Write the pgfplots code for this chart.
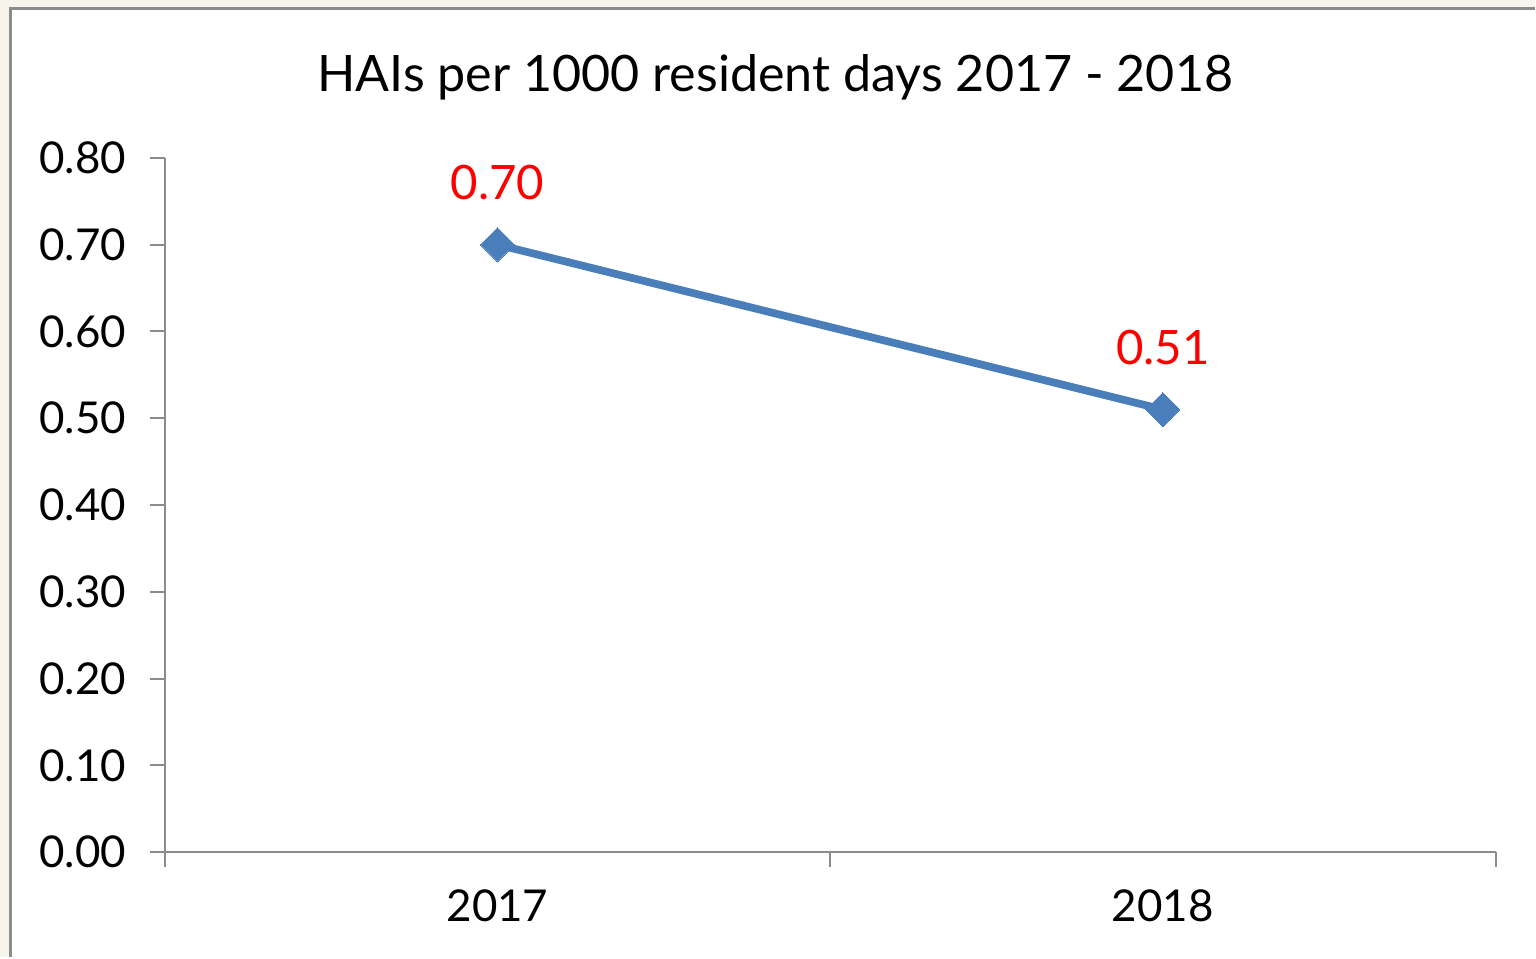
\documentclass[border=0pt]{standalone}
\usepackage{pgfplots}
\pgfplotsset{compat=1.18}
\usepackage{fontspec}
\setmainfont{Lato}
\definecolor{lineblue}{HTML}{4A7EBB}
\definecolor{axgray}{HTML}{8C8C8C}
\definecolor{cream}{HTML}{F7F4EC}
\definecolor{labred}{HTML}{FF0000}
\begin{document}
\begin{tikzpicture}
\fill[cream] (0,0) rectangle (153.6mm,95.8mm);
\fill[white] (1.1mm,0) rectangle (153.6mm,94.9mm);
\draw[axgray, line width=0.3mm] (1.1mm,0) -- (1.1mm,94.9mm) -- (153.6mm,94.9mm);
\useasboundingbox (0,0) rectangle (153.6mm,95.8mm);
\node[anchor=base, inner sep=0pt, font=\fontsize{14.3}{17}\selectfont] at (77.6mm,86.6mm) {HAIs per 1000 resident days 2017 - 2018};
\begin{axis}[
  at={(16.5mm,10.5mm)}, anchor=south west,
  scale only axis, width=133.2mm, height=69.5mm,
  xmin=-0.5, xmax=1.5, ymin=0, ymax=0.8,
  axis lines=left, axis line style={-, axgray, line width=0.2mm},
  tick align=outside, major tick length=1.5mm,
  tick style={axgray, line width=0.2mm},
  xtick={-0.5,0.5,1.5}, xticklabels={},
  extra x ticks={0,1}, extra x tick labels={2017,2018},
  extra x tick style={major tick length=0pt, xticklabel style={anchor=base, inner sep=0pt, yshift=-6.9mm}},
  ytick={0,0.1,...,0.8},
  yticklabel style={anchor=east, inner sep=0pt, xshift=-2.3mm, /pgf/number format/.cd, fixed, fixed zerofill, precision=2},
  /pgf/number format/assume math mode=true,
  ticklabel style={font=\fontsize{12.5}{15}\selectfont},
  clip=false,
  nodes near coords,
  point meta=explicit symbolic,
  every node near coord/.append style={anchor=base, inner sep=0pt, yshift=4.5mm, text=labred, font=\fontsize{13.5}{16}\selectfont},
]
\addplot[lineblue, line width=2.2pt, mark=square*, mark size=1.2mm, mark options={rotate=45, fill=lineblue, draw=lineblue, line width=0pt}]
  coordinates {(0,0.70) [0.70] (1,0.51) [0.51]};
\end{axis}
\end{tikzpicture}
\end{document}
